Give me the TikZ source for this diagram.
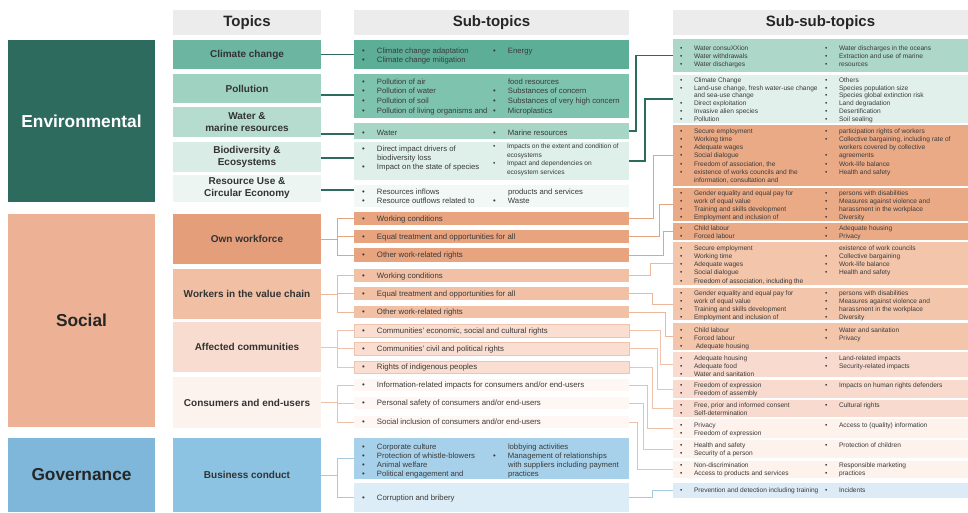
\documentclass[tikz,border=0pt]{standalone}
\usepackage{fontspec}
\setmainfont{Liberation Sans}
\newlength\bw
\newcommand\Bul{\makebox[\bw][l]{\textbullet}}
\newcommand\Nob{\hspace*{\bw}}
\newcommand\bcol[1]{\begin{tabular}[t]{@{}l@{}}#1\end{tabular}}
\definecolor{envD}{HTML}{2C6B5E}
\definecolor{socD}{HTML}{EDB295}
\definecolor{govD}{HTML}{7EB7D9}
\definecolor{hdr}{HTML}{ECECEC}
\definecolor{tCCc}{HTML}{6CB5A0}
\definecolor{tPOc}{HTML}{A0D2C1}
\definecolor{tWAc}{HTML}{B5DCCF}
\definecolor{tBIc}{HTML}{D9ECE5}
\definecolor{tREc}{HTML}{EDF5F2}
\definecolor{tOWc}{HTML}{E49F7A}
\definecolor{tVCc}{HTML}{F0BFA4}
\definecolor{tACc}{HTML}{F8DCCF}
\definecolor{tCEc}{HTML}{FDF3EE}
\definecolor{tBCc}{HTML}{8CC2E2}
\definecolor{sCCc}{HTML}{5DAE97}
\definecolor{sPOc}{HTML}{7EC3AE}
\definecolor{sWAc}{HTML}{A7D6C6}
\definecolor{sBIc}{HTML}{DFEFE9}
\definecolor{sREc}{HTML}{F2F8F6}
\definecolor{sOWc}{HTML}{E8A37F}
\definecolor{sVCc}{HTML}{F1C0A5}
\definecolor{sACc}{HTML}{F9DED1}
\definecolor{sACb}{HTML}{EFC3AE}
\definecolor{sCEc}{HTML}{FEF7F3}
\definecolor{sB1c}{HTML}{A7D1EA}
\definecolor{sB2c}{HTML}{DCEDF7}
\definecolor{xWAc}{HTML}{ADD7C8}
\definecolor{xBIc}{HTML}{E2F0EB}
\definecolor{xOWc}{HTML}{EAAA86}
\definecolor{xVCc}{HTML}{F3C5AB}
\definecolor{xACc}{HTML}{F8DBCE}
\definecolor{xCEc}{HTML}{FDF2EC}
\definecolor{xBCc}{HTML}{DCEBF5}
\definecolor{txt}{HTML}{3A3A3A}
\definecolor{ttl}{HTML}{333333}
\definecolor{lOW}{HTML}{E3A480}
\definecolor{lVC}{HTML}{ECB89B}
\definecolor{lAC}{HTML}{EFC2AC}
\definecolor{lCE}{HTML}{EFC0A8}
\definecolor{lBC}{HTML}{A6CBE0}
\begin{document}
\begin{tikzpicture}[x=1pt,y=-1pt,
  box/.style={rectangle,draw=none,inner sep=0pt,outer sep=0pt,anchor=north west},
  catbox/.style={box,font=\bfseries\fontsize{17.3}{20}\selectfont},
  tpc/.style={box,align=center,text=ttl,minimum width=148,font=\bfseries\fontsize{10}{12}\selectfont},
  hd/.style={box,fill=hdr,text=black!85,font=\bfseries\fontsize{15}{18}\selectfont},
  subbox/.style={box,minimum width=275},
  xbox/.style={box,minimum width=295},
  sst/.style={anchor=base west,inner sep=0pt,outer sep=0pt,text=txt,font=\fontsize{6.6}{#1}\selectfont\setlength\bw{14pt}},
  sst/.default=8.2,
  stt/.style={anchor=base west,inner sep=0pt,outer sep=0pt,text=txt,font=\fontsize{7.7}{#1}\selectfont\setlength\bw{15pt}},
  stt/.default=9.5,
  onel/.style={anchor=mid west,inner sep=0pt,outer sep=0pt,text=txt,font=\fontsize{7.8}{9}\selectfont\setlength\bw{15pt}},
  lnTe/.style={draw=envD,line width=1.4pt},
  lnOW/.style={draw=lOW,line width=0.9pt},
  lnVC/.style={draw=lVC,line width=0.9pt},
  lnAC/.style={draw=lAC,line width=0.9pt},
  lnCE/.style={draw=lCE,line width=0.9pt},
  lnBC/.style={draw=lBC,line width=0.9pt}
]
\useasboundingbox (0,0) rectangle (968,512);
\fill[white] (0,0) rectangle (968,512);

% categories
\node[catbox,fill=envD,text=white,minimum width=147,minimum height=162] (cEnv) at (8,40) {Environmental};
\node[catbox,fill=socD,text=black!85,minimum width=147,minimum height=213] (cSoc) at (8,214) {Social};
\node[catbox,fill=govD,text=black!85,minimum width=147,minimum height=74] (cGov) at (8,438) {Governance};

% headers
\node[hd,minimum width=148,minimum height=25] (hT) at (173,10) {Topics};
\node[hd,minimum width=275,minimum height=25] (hS) at (354,10) {Sub-topics};
\node[hd,minimum width=295,minimum height=25] (hX) at (673,10) {Sub-sub-topics};

% topics
\node[tpc,fill=tCCc,minimum height=29] (tCC) at (173,40) {Climate change};
\node[tpc,fill=tPOc,minimum height=29] (tPO) at (173,74) {Pollution};
\node[tpc,fill=tWAc,minimum height=30] (tWA) at (173,107) {Water \&\\marine resources};
\node[tpc,fill=tBIc,minimum height=30] (tBI) at (173,142) {Biodiversity \&\\Ecosystems};
\node[tpc,fill=tREc,minimum height=27] (tRE) at (173,175) {Resource Use \&\\Circular Economy};
\node[tpc,fill=tOWc,minimum height=50] (tOW) at (173,214) {Own workforce};
\node[tpc,fill=tVCc,minimum height=50] (tVC) at (173,269) {Workers in the value chain};
\node[tpc,fill=tACc,minimum height=50] (tAC) at (173,322) {Affected communities};
\node[tpc,fill=tCEc,minimum height=51] (tCE) at (173,377) {Consumers and end-users};
\node[tpc,fill=tBCc,minimum height=74] (tBC) at (173,438) {Business conduct};

% sub-topic boxes
\node[subbox,fill=sCCc,minimum height=29] (sCC) at (354,40) {};
\node[subbox,fill=sPOc,minimum height=44] (sPO) at (354,74) {};
\node[subbox,fill=sWAc,minimum height=16] (sWA) at (354,123) {};
\node[subbox,fill=sBIc,minimum height=38] (sBI) at (354,142) {};
\node[subbox,fill=sREc,minimum height=22] (sRE) at (354,185) {};
\node[subbox,fill=sOWc,minimum height=13] (sOW1) at (354,212) {};
\node[subbox,fill=sOWc,minimum height=13] (sOW2) at (354,230) {};
\node[subbox,fill=sOWc,minimum height=14] (sOW3) at (354,248) {};
\node[subbox,fill=sVCc,minimum height=13] (sVC1) at (354,269) {};
\node[subbox,fill=sVCc,minimum height=13] (sVC2) at (354,287) {};
\node[subbox,fill=sVCc,minimum height=12] (sVC3) at (354,306) {};
\node[subbox,fill=sACc,draw=sACb,line width=0.6pt,minimum height=13] (sAC1) at (354,324) {};
\node[subbox,fill=sACc,draw=sACb,line width=0.6pt,minimum height=13] (sAC2) at (354,342) {};
\node[subbox,fill=sACc,draw=sACb,line width=0.6pt,minimum height=12] (sAC3) at (354,361) {};
\node[subbox,fill=sCEc,minimum height=12] (sCE1) at (354,379) {};
\node[subbox,fill=sCEc,minimum height=12] (sCE2) at (354,397) {};
\node[subbox,fill=sCEc,minimum height=12] (sCE3) at (354,416) {};
\node[subbox,fill=sB1c,minimum height=41] (sBC1) at (354,438) {};
\node[subbox,fill=sB2c,minimum height=29] (sBC2) at (354,483) {};

% sub-topic texts
\node[stt=9.5] (sCCa) at (362,53) {\bcol{\Bul Climate change adaptation\\ \Bul Climate change mitigation}};
\node[stt=9.5] (sCCb) at (493,53) {\bcol{\Bul Energy}};
\node[stt=9.7] (sPOa) at (362,84) {\bcol{\Bul Pollution of air\\ \Bul Pollution of water\\ \Bul Pollution of soil\\ \Bul Pollution of living organisms and}};
\node[stt=9.7] (sPOb) at (493,84) {\bcol{\Nob food resources\\ \Bul Substances of concern\\ \Bul Substances of very high concern\\ \Bul Microplastics}};
\node[stt] (sWAa) at (362,135) {\bcol{\Bul Water}};
\node[stt] (sWAb) at (493,135) {\bcol{\Bul Marine resources}};
\node[stt=9] (sBIa) at (362,151.5) {\bcol{\Bul Direct impact drivers of\\ \Nob biodiversity loss\\ \Bul Impact on the state of species}};
\node[sst=8.7] (sBIb) at (493,148.5) {\bcol{\Bul Impacts on the extent and condition of\\ \Nob ecosystems\\ \Bul Impact and dependencies on\\ \Nob ecosystem services}};
\node[stt=9.3] (sREa) at (362,194) {\bcol{\Bul Resources inflows\\ \Bul Resource outflows related to}};
\node[stt=9.3] (sREb) at (493,194) {\bcol{\Nob products and services\\ \Bul Waste}};
\node[onel] (sOW1t) at (362,218.5) {\Bul Working conditions};
\node[onel] (sOW2t) at (362,236.5) {\Bul Equal treatment and opportunities for all};
\node[onel] (sOW3t) at (362,255) {\Bul Other work-related rights};
\node[onel] (sVC1t) at (362,275.5) {\Bul Working conditions};
\node[onel] (sVC2t) at (362,293.5) {\Bul Equal treatment and opportunities for all};
\node[onel] (sVC3t) at (362,312) {\Bul Other work-related rights};
\node[onel] (sAC1t) at (362,330.5) {\Bul Communities' economic, social and cultural rights};
\node[onel] (sAC2t) at (362,348.5) {\Bul Communities' civil and political rights};
\node[onel] (sAC3t) at (362,367) {\Bul Rights of indigenous peoples};
\node[onel] (sCE1t) at (362,385) {\Bul Information-related impacts for consumers and/or end-users};
\node[onel] (sCE2t) at (362,403) {\Bul Personal safety of consumers and/or end-users};
\node[onel] (sCE3t) at (362,422) {\Bul Social inclusion of consumers and/or end-users};
\node[stt=9] (sBC1a) at (362,449) {\bcol{\Bul Corporate culture\\ \Bul Protection of whistle-blowers\\ \Bul Animal welfare\\ \Bul Political engagement and}};
\node[stt=9] (sBC1b) at (493,449) {\bcol{\Nob lobbying activities\\ \Bul Management of relationships\\ \Nob with suppliers including payment\\ \Nob practices}};
\node[onel] (sBC2t) at (362,498) {\Bul Corruption and bribery};

% sub-sub-topic boxes
\node[xbox,fill=xWAc,minimum height=33] (x1) at (673,39) {};
\node[xbox,fill=xBIc,minimum height=48] (x2) at (673,75) {};
\node[xbox,fill=xOWc,minimum height=61] (x3) at (673,125) {};
\node[xbox,fill=xOWc,minimum height=33] (x4) at (673,188) {};
\node[xbox,fill=xOWc,minimum height=17] (x5) at (673,223) {};
\node[xbox,fill=xVCc,minimum height=43] (x6) at (673,242) {};
\node[xbox,fill=xVCc,minimum height=32] (x7) at (673,288) {};
\node[xbox,fill=xVCc,minimum height=27] (x8) at (673,323) {};
\node[xbox,fill=xACc,minimum height=25] (x9) at (673,352) {};
\node[xbox,fill=xACc,minimum height=18] (x10) at (673,380) {};
\node[xbox,fill=xACc,minimum height=17] (x11) at (673,400) {};
\node[xbox,fill=xCEc,minimum height=19] (x12) at (673,419) {};
\node[xbox,fill=xCEc,minimum height=18] (x13) at (673,440) {};
\node[xbox,fill=xCEc,minimum height=17] (x14) at (673,461) {};
\node[xbox,fill=xBCc,minimum height=15] (x15) at (673,483) {};

% sub-sub-topic texts
\node[sst=8.3] (x1a) at (680,50) {\bcol{\Bul Water consuXXion\\ \Bul Water withdrawals\\ \Bul Water discharges}};
\node[sst=8.3] (x1b) at (825,50) {\bcol{\Bul Water discharges in the oceans\\ \Bul Extraction and use of marine\\ \Bul resources}};
\node[sst=7.7] (x2a) at (680,82.5) {\bcol{\Bul Climate Change\\ \Bul Land-use change, fresh water-use change\\ \Nob and sea-use change\\ \Bul Direct exploitation\\ \Bul Invasive alien species\\ \Bul Pollution}};
\node[sst=7.7] (x2b) at (825,82.5) {\bcol{\Bul Others\\ \Bul Species population size\\ \Bul Species global extinction risk\\ \Bul Land degradation\\ \Bul Desertification\\ \Bul Soil sealing}};
\node[sst=8.3] (x3a) at (680,133) {\bcol{\Bul Secure employment\\ \Bul Working time\\ \Bul Adequate wages\\ \Bul Social dialogue\\ \Bul Freedom of association, the\\ \Bul existence of works councils and the\\ \Nob information, consultation and}};
\node[sst=8.3] (x3b) at (825,133) {\bcol{\Bul participation rights of workers\\ \Bul Collective bargaining, including rate of\\ \Nob workers covered by collective\\ \Bul agreements\\ \Bul Work-life balance\\ \Bul Health and safety}};
\node[sst=8] (x4a) at (680,195) {\bcol{\Bul Gender equality and equal pay for\\ \Bul work of equal value\\ \Bul Training and skills development\\ \Bul Employment and inclusion of}};
\node[sst=8] (x4b) at (825,195) {\bcol{\Bul persons with disabilities\\ \Bul Measures against violence and\\ \Bul harassment in the workplace\\ \Bul Diversity}};
\node[sst=7.5] (x5a) at (680,230.5) {\bcol{\Bul Child labour\\ \Bul Forced labour}};
\node[sst=7.5] (x5b) at (825,230.5) {\bcol{\Bul Adequate housing\\ \Bul Privacy}};
\node[sst=8.3] (x6a) at (680,250) {\bcol{\Bul Secure employment\\ \Bul Working time\\ \Bul Adequate wages\\ \Bul Social dialogue\\ \Bul Freedom of association, including the}};
\node[sst=8.3] (x6b) at (825,250) {\bcol{\Nob existence of work councils\\ \Bul Collective bargaining\\ \Bul Work-life balance\\ \Bul Health and safety}};
\node[sst=8] (x7a) at (680,295) {\bcol{\Bul Gender equality and equal pay for\\ \Bul work of equal value\\ \Bul Training and skills development\\ \Bul Employment and inclusion of}};
\node[sst=8] (x7b) at (825,295) {\bcol{\Bul persons with disabilities\\ \Bul Measures against violence and\\ \Bul harassment in the workplace\\ \Bul Diversity}};
\node[sst=8.3] (x8a) at (680,332) {\bcol{\Bul Child labour\\ \Bul Forced labour\\ \Bul \ Adequate housing}};
\node[sst=8.3] (x8b) at (825,332) {\bcol{\Bul Water and sanitation\\ \Bul Privacy}};
\node[sst=8] (x9a) at (680,360) {\bcol{\Bul Adequate housing\\ \Bul Adequate food\\ \Bul Water and sanitation}};
\node[sst=8] (x9b) at (825,360) {\bcol{\Bul Land-related impacts\\ \Bul Security-related impacts}};
\node[sst=8.3] (x10a) at (680,387.5) {\bcol{\Bul Freedom of expression\\ \Bul Freedom of assembly}};
\node[sst=8.3] (x10b) at (825,387.5) {\bcol{\Bul Impacts on human rights defenders}};
\node[sst=8.3] (x11a) at (680,407.5) {\bcol{\Bul Free, prior and informed consent\\ \Bul Self-determination}};
\node[sst=8.3] (x11b) at (825,407.5) {\bcol{\Bul Cultural rights}};
\node[sst=8.3] (x12a) at (680,427.5) {\bcol{\Bul Privacy\\ \Bul Freedom of expression}};
\node[sst=8.3] (x12b) at (825,427.5) {\bcol{\Bul Access to (quality) information}};
\node[sst=8.3] (x13a) at (680,447.5) {\bcol{\Bul Health and safety\\ \Bul Security of a person}};
\node[sst=8.3] (x13b) at (825,447.5) {\bcol{\Bul Protection of children}};
\node[sst=8] (x14a) at (680,467) {\bcol{\Bul Non-discrimination\\ \Bul Access to products and services}};
\node[sst=8] (x14b) at (825,467) {\bcol{\Bul Responsible marketing\\ \Bul practices}};
\node[sst] (x15a) at (680,492) {\bcol{\Bul Prevention and detection including training}};
\node[sst] (x15b) at (825,492) {\bcol{\Bul Incidents}};

% topic -> sub-topic connectors (environmental)
\draw[lnTe] (tCC.east) -- (sCC.west);
\draw[lnTe] (tPO.east |- 0,95) -- (sPO.west |- 0,95);
\draw[lnTe] (tWA.east |- 0,134) -- (sWA.west |- 0,134);
\draw[lnTe] (tBI.east |- 0,158) -- (sBI.west |- 0,158);
\draw[lnTe] (tRE.east |- 0,190) -- (sRE.west |- 0,190);

% topic -> sub-topic trees (social, governance)
\coordinate (bus) at (337,0);
\draw[lnOW] (tOW.east) -- (tOW.east -| bus);
\draw[lnOW] (sOW1.west) -| (bus |- sOW3.west) -- (sOW3.west);
\draw[lnOW] (sOW2.west) -- (sOW2.west -| bus);
\draw[lnVC] (tVC.east) -- (tVC.east -| bus);
\draw[lnVC] (sVC1.west) -| (bus |- sVC3.west) -- (sVC3.west);
\draw[lnVC] (sVC2.west) -- (sVC2.west -| bus);
\draw[lnAC] (tAC.east) -- (tAC.east -| bus);
\draw[lnAC] (sAC1.west) -| (bus |- sAC3.west) -- (sAC3.west);
\draw[lnAC] (sAC2.west) -- (sAC2.west -| bus);
\draw[lnCE] (tCE.east) -- (tCE.east -| bus);
\draw[lnCE] (sCE1.west) -| (bus |- sCE3.west) -- (sCE3.west);
\draw[lnCE] (sCE2.west) -- (sCE2.west -| bus);
\draw[lnBC] (tBC.east) -- (tBC.east -| bus);
\draw[lnBC] (sBC1.west) -| (bus |- sBC2.west) -- (sBC2.west);

% sub-topic -> sub-sub-topic connectors
\draw[lnTe] (sWA.east) -- (sWA.east -| 636,0) |- (x1.west);
\draw[lnTe] (sBI.east) -- (sBI.east -| 645,0) |- (x2.west);
\draw[lnOW] (sOW1.east) -- (sOW1.east -| 653,0) |- (x3.west);
\draw[lnOW] (sOW2.east) -- (sOW2.east -| 659,0) |- (x4.west);
\draw[lnOW] (sOW3.east) -- (sOW3.east -| 663,0) |- (x5.west);
\draw[lnVC] (sVC1.east) -- (sVC1.east -| 650,0) |- (x6.west);
\draw[lnVC] (sVC2.east) -- (sVC2.east -| 652,0) |- (x7.west);
\draw[lnVC] (sVC3.east) -- (sVC3.east -| 665,0) |- (x8.west);
\draw[lnAC] (sAC1.east) -- (sAC1.east -| 660,0) |- (x9.west);
\draw[lnAC] (sAC2.east) -- (sAC2.east -| 657,0) |- (x10.west);
\draw[lnAC] (sAC3.east) -- (sAC3.east -| 652,0) |- (x11.west);
\draw[lnCE] (sCE1.east) -- (sCE1.east -| 647,0) |- (x12.west);
\draw[lnCE] (sCE2.east) -- (sCE2.east -| 643,0) |- (x13.west);
\draw[lnCE] (sCE3.east) -- (sCE3.east -| 637,0) |- (x14.west);
\draw[lnBC] (sBC2.east) -- (sBC2.east -| 652,0) |- (x15.west);
\end{tikzpicture}
\end{document}
